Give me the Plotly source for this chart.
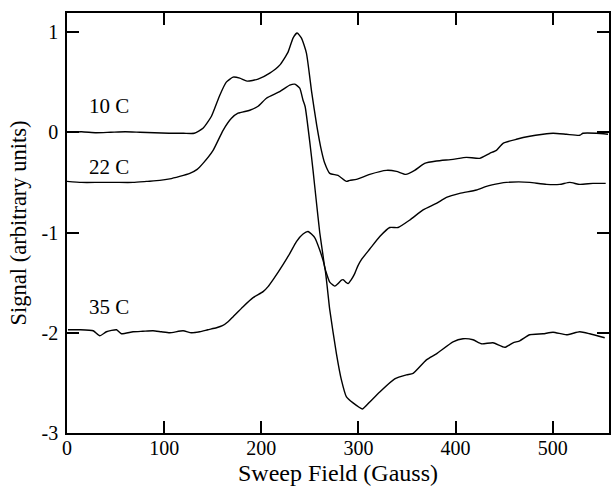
import plotly.graph_objects as go

# ---- data (field in Gauss, signal in arbitrary units) ----
field_10 = [0, 15, 30, 45, 60, 75, 90, 105, 120, 131, 140, 148.7, 157.3, 164, 171,
            177.9, 185.4, 196.7, 208.7, 219, 227.6, 232.7, 236.9, 241.4, 246.5, 251.9,
            257.1, 261.9, 265.4, 270.5, 279, 287.7, 291.1, 298, 311.7, 328.9, 339.2,
            348.8, 357.9, 368.2, 380.3, 397.4, 411.2, 424.9, 435.2, 442.1, 448.9, 462.7,
            476.4, 490.1, 500.4, 514.2, 527.9, 531.2, 545, 557]
signal_10 = [0, 0.005, -0.005, 0.0, 0.005, 0.0, -0.005, -0.01, -0.01, -0.01, 0.04, 0.16,
             0.37, 0.50, 0.55, 0.54, 0.51, 0.53, 0.59, 0.67, 0.80, 0.94, 0.99, 0.94, 0.79,
             0.40, 0.07, -0.18, -0.31, -0.41, -0.43, -0.49, -0.48, -0.47, -0.42, -0.38,
             -0.39, -0.42, -0.38, -0.31, -0.287, -0.27, -0.25, -0.26, -0.21, -0.18, -0.11,
             -0.07, -0.04, -0.02, -0.01, -0.02, -0.03, -0.01, -0.01, -0.02]

field_22 = [0, 15, 33, 50, 68, 82, 95.5, 105.8, 116, 126.4, 134, 140, 150.4, 160.7, 169.3,
            176.1, 188.2, 196.7, 205.3, 219, 229.3, 234.5, 239.6, 243, 245.2, 250, 253.3,
            256.6, 260.2, 263.6, 265.4, 270.5, 274, 275.7, 279, 282.5, 284.2, 287.7, 289.3,
            292.7, 296.2, 299.6, 303.1, 311.7, 322, 332.3, 340.8, 352.9, 366.6, 380.3,
            390.6, 404.3, 421.5, 431.8, 445.5, 452.4, 465, 476.4, 493.6, 507.3, 517.6,
            527.9, 541.5, 554.6]
signal_22 = [-0.49, -0.50, -0.50, -0.50, -0.50, -0.49, -0.48, -0.465, -0.44, -0.41, -0.37,
             -0.31, -0.18, 0.02, 0.14, 0.19, 0.22, 0.26, 0.34, 0.405, 0.47, 0.48, 0.44, 0.32,
             0.255, -0.10, -0.38, -0.68, -1.0, -1.23, -1.35, -1.495, -1.525, -1.535, -1.51,
             -1.475, -1.47, -1.50, -1.51, -1.47, -1.41, -1.33, -1.27, -1.165, -1.04, -0.95,
             -0.95, -0.875, -0.775, -0.71, -0.65, -0.61, -0.576, -0.54, -0.51, -0.50,
             -0.495, -0.50, -0.52, -0.52, -0.50, -0.52, -0.51, -0.51]

field_35 = [1, 13, 27, 33.8, 40.6, 51, 56, 68, 78, 88.6, 97, 105.8, 119.5, 128, 136.7, 145,
            153.9, 160, 165.8, 171, 181.3, 191.6, 201.9, 207, 212.2, 222.4, 229.3, 236.2,
            243, 248.2, 255, 260.2, 265.4, 270.5, 277.4, 282.5, 287.7, 294.5, 304.2, 311.7,
            322, 337.4, 349.5, 356.3, 370, 380.3, 397.4, 407.7, 418, 426.7, 438.6, 450.7,
            459.2, 466.1, 476.4, 490.1, 500.4, 514.2, 527.9, 538.2, 553.6]
signal_35 = [-1.97, -1.97, -1.98, -2.03, -1.99, -1.97, -2.01, -1.99, -1.985, -1.98, -1.99,
             -2.0, -1.98, -2.0, -1.99, -1.97, -1.95, -1.93, -1.89, -1.84, -1.74, -1.65,
             -1.59, -1.54, -1.47, -1.32, -1.21, -1.09, -1.015, -0.99, -1.05, -1.175, -1.345,
             -1.77, -2.21, -2.47, -2.64, -2.70, -2.76, -2.69, -2.59, -2.46, -2.42, -2.405,
             -2.27, -2.21, -2.09, -2.06, -2.07, -2.11, -2.10, -2.145, -2.10, -2.08, -2.02,
             -2.01, -1.995, -2.02, -1.99, -2.01, -2.05]

curve_labels = ["10 C", "22 C", "35 C"]
label_field = [43, 43, 43]
label_signal = [0.26, -0.345, -1.74]

x_ticks = [0, 100, 200, 300, 400, 500]
y_ticks = [1, 0, -1, -2, -3]
y_tick_text = ["1", "0", "-1", "-2", "-3"]

SERIF = "Liberation Serif, Times New Roman, serif"

fig = go.Figure()
for fx, fy in [(field_10, signal_10), (field_22, signal_22), (field_35, signal_35)]:
    fig.add_trace(go.Scatter(
        x=fx, y=fy, mode="lines",
        line=dict(color="black", width=1.4, shape="spline", smoothing=0.5),
        showlegend=False, hoverinfo="skip"
    ))

for txt, lx, ly in zip(curve_labels, label_field, label_signal):
    fig.add_annotation(x=lx, y=ly, text=txt, showarrow=False,
                       font=dict(family=SERIF, size=21, color="black"))

axis_common = dict(
    showline=True, linecolor="black", linewidth=1.6, mirror="ticks",
    ticks="inside", ticklen=12, tickwidth=1.6, tickcolor="black",
    showgrid=False, zeroline=False,
    tickfont=dict(family=SERIF, size=20, color="black"),
)

fig.update_xaxes(
    range=[0, 558], tickvals=x_ticks, ticklabelstandoff=-4,
    title=dict(text="Sweep Field (Gauss)", font=dict(family=SERIF, size=24, color="black"),
               standoff=6),
    **axis_common
)
fig.update_yaxes(
    range=[-3, 1.19], tickvals=y_ticks, ticktext=y_tick_text, ticklabelstandoff=3,
    title=dict(text="Signal (arbitrary units)", font=dict(family=SERIF, size=22.5, color="black"),
               standoff=9),
    **axis_common
)

fig.update_layout(
    width=611, height=490,
    margin=dict(l=67, r=2, t=13, b=57, autoexpand=False),
    paper_bgcolor="white", plot_bgcolor="white",
)

# drop the browser's default 8px body margin so the figure sits at the page corner
fig.write_html("out.html", config={"displayModeBar": False},
               post_script="document.body.style.margin='0';")
